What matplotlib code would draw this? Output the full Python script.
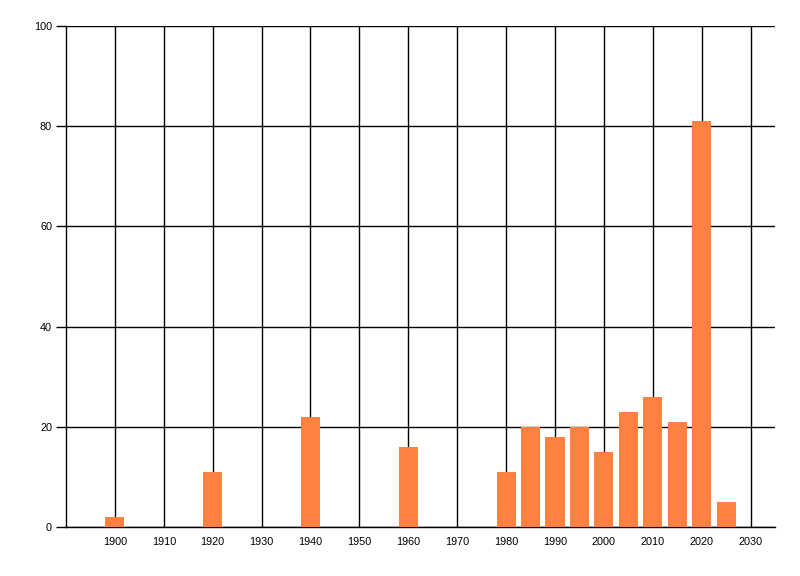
import matplotlib
matplotlib.use("Agg")
import matplotlib.pyplot as plt

plt.rcParams["font.family"] = ["Liberation Sans", "DejaVu Sans"]

years = [1900, 1920, 1940, 1960, 1980, 1985, 1990, 1995, 2000, 2005, 2010, 2015, 2020, 2025]
values = [2, 11, 22, 16, 11, 20, 18, 20, 15, 23, 26, 21, 81, 5]
x_ticks = list(range(1900, 2031, 10))
y_ticks = [0, 20, 40, 60, 80, 100]

fig = plt.figure(figsize=(8, 5.76), dpi=100)
ax = fig.add_axes([66/800, 1-527/576, (775-66)/800, (527-26)/576])
ax.bar(years, values, width=3.9, color="#FF8040", zorder=3)
ax.set_xlim(1890, 2035)
ax.set_ylim(0, 100)
ax.set_xticks(x_ticks)
ax.set_yticks(y_ticks)
ax.grid(True, color="black", linewidth=1, zorder=1)
for s in ["top", "right"]:
    ax.spines[s].set_visible(False)
for s in ["left", "bottom"]:
    ax.spines[s].set_linewidth(1)
ax.tick_params(axis="x", length=0, pad=7, labelsize=7.8)
ax.tick_params(axis="y", length=7, width=1, pad=3, labelsize=7.8)
fig.savefig("out.png", dpi=100, facecolor="white")
